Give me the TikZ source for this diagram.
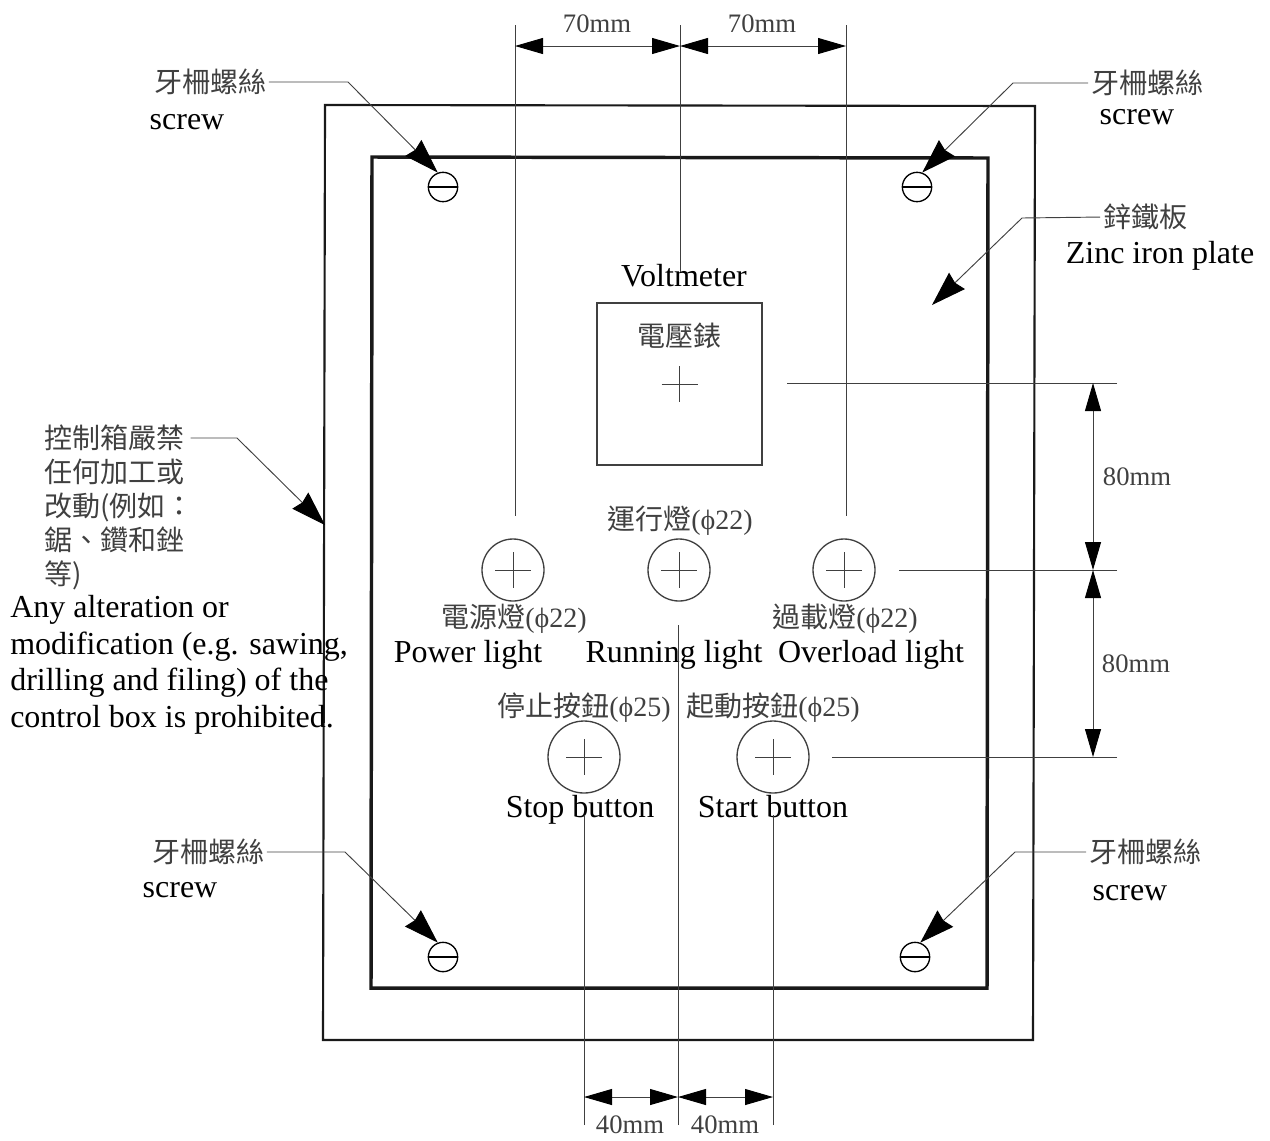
\documentclass[tikz,border=0pt]{standalone}
\usepackage{fontspec}
\setmainfont{Liberation Serif}
\newfontfamily\cjk{Noto Sans CJK TC}
\usetikzlibrary{arrows.meta,shapes}
\definecolor{scan}{HTML}{404040}
\tikzset{%
  thinline/.style={%
    draw=scan,%
    line width=0.7pt},
  dimline/.style={%
    thinline,%
    {Triangle[length=21pt,width=12pt,color=black]}-{Triangle[length=21pt,width=12pt,color=black]}},
  leader/.style={%
    thinline,%
    shorten <=2pt,%
    -{Stealth[length=26pt,width=17pt,inset=2pt,color=black]}},
  lamp/.style={%
    circle,%
    draw=scan,%
    line width=1pt,%
    inner sep=0pt,%
    minimum size=46.5pt},
  pushbutton/.style={%
    lamp,%
    minimum size=54pt},
  screwhead/.style={%
    circle,%
    draw=black,%
    line width=1pt,%
    inner sep=0pt,%
    minimum size=22pt},
  english/.style={%
    font=\fontsize{24}{27.5}\selectfont,%
    text height=20pt,%
    text depth=5pt,%
    inner sep=0pt},
  paragraph/.style={%
    font=\fontsize{24}{27.5}\selectfont,%
    anchor=north west,%
    align=left,%
    inner sep=0pt},
  chinese/.style={%
    font=\fontsize{21}{25.5}\selectfont\cjk,%
    text=scan,%
    inner sep=0pt},
  partname/.style={%
    font=\fontsize{21}{25}\selectfont,%
    text=scan,%
    inner sep=0pt},
  size/.style={%
    font=\fontsize{20}{24}\selectfont,%
    text=scan,%
    inner sep=0pt}
}
\begin{document}
\begin{tikzpicture}[x=0.75pt,y=-0.75pt]
  \useasboundingbox (0,0) rectangle (1270,1140);
  % box and plate
  \draw [line width=1.6pt,draw=black!90] (325,105) -- (1035,106) -- (1033,1040) -- (323,1040) -- cycle;
  \draw [line width=2.6pt,draw=black!90] (372,157) -- (988,158) -- (987,988) -- (371,988) -- cycle;
  \node [draw=scan,line width=1.2pt,minimum width=123.75pt,minimum height=121.5pt,inner sep=0pt] (volt) at (679.5,384) {};
  % lights and buttons
  \node [lamp] (power) at (513,570) {};
  \node [lamp] (running) at (679,570) {};
  \node [lamp] (overload) at (844,570) {};
  \node [pushbutton] (stop) at (584,757) {};
  \node [pushbutton] (start) at (773,757) {};
  \foreach \n in {power,running,overload,stop,start,volt}
    \draw [thinline] (\n.center) +(-18,0) -- +(18,0) (\n.center) +(0,-18) -- +(0,18);
  % screws
  \node [screwhead] (screwtl) at (443,187) {};
  \node [screwhead] (screwtr) at (917,187) {};
  \node [screwhead] (screwbl) at (443,957) {};
  \node [screwhead] (screwbr) at (915,957) {};
  \foreach \n in {screwtl,screwtr,screwbl,screwbr}
    \draw [line width=1pt] (\n.west) -- (\n.east);
  % texts
  \node [chinese] (cntl) at (210,82) {牙柵螺絲};
  \node [english] (entl) at (187,119) {screw};
  \node [chinese] (cntr) at (1147,83) {牙柵螺絲};
  \node [english] (entr) at (1137,114) {screw};
  \node [chinese] (cnbl) at (208,852) {牙柵螺絲};
  \node [english] (enbl) at (180,887) {screw};
  \node [chinese] (cnbr) at (1145,852) {牙柵螺絲};
  \node [english] (enbr) at (1130,890) {screw};
  \node [chinese] (cnzinc) at (1145,217) {鋅鐵板};
  \node [english] (enzinc) at (1160,253) {Zinc iron plate};
  \node [english] (envolt) at (684,276) {Voltmeter};
  \node [chinese] (cnvolt) at (679,336) {電壓錶};
  \node [partname] (cnrunning) at (680,521) {{\cjk 運行燈}(ϕ22)};
  \node [partname] (cnpower) at (514,619) {{\cjk 電源燈}(ϕ22)};
  \node [partname] (cnoverload) at (845,619) {{\cjk 過載燈}(ϕ22)};
  \node [english] (enpower) at (468,652) {Power light};
  \node [english] (enrunning) at (674,652) {Running light};
  \node [english] (enoverload) at (871,652) {Overload light};
  \node [partname] (cnstop) at (584,708) {{\cjk 停止按鈕}(ϕ25)};
  \node [partname] (cnstart) at (773,708) {{\cjk 起動按鈕}(ϕ25)};
  \node [english] (enstop) at (580,807) {Stop button};
  \node [english] (enstart) at (773,807) {Start button};
  \node [chinese,anchor=north west,align=left] (cnwarn) at (44,425) {控制箱嚴禁\\任何加工或\\改動(例如：\\鋸、鑽和銼\\等)};
  \node [paragraph] (enwarn) at (10,595) {Any alteration or\\modification (e.g. sawing,\\drilling and filing) of the\\control box is prohibited.};
  % leaders
  \coordinate (bendtl) at (348,82);
  \coordinate (bendtr) at (1013,83);
  \coordinate (bendbl) at (345,852);
  \coordinate (bendbr) at (1015,852);
  \coordinate (bendzinc) at (1022,218);
  \coordinate (tipzinc) at (932,305);
  \coordinate (bendwarn) at (237,438);
  \coordinate (startwarn) at (188,438);
  \coordinate (tipwarn) at (325,525);
  \draw [leader] (cntl.east) -- (bendtl) -- (screwtl.110);
  \draw [leader] (cntr.west) -- (bendtr) -- (screwtr.70);
  \draw [leader] (cnbl.east) -- (bendbl) -- (screwbl.110);
  \draw [leader] (cnbr.west) -- (bendbr) -- (screwbr.70);
  \draw [leader] (cnzinc.west) -- (bendzinc) -- (tipzinc);
  \draw [leader] (startwarn) -- (bendwarn) -- (tipwarn);
  % witness lines
  \coordinate (topl) at (515,25);
  \coordinate (topm) at (680,25);
  \coordinate (topr) at (846,25);
  \coordinate (botl) at (584,1125);
  \coordinate (botm) at (678,1125);
  \coordinate (botr) at (773,1125);
  \coordinate (rtop) at (1117,383);
  \coordinate (rmid) at (1117,570);
  \coordinate (rbot) at (1117,757);
  \coordinate (endtopl) at (515,516);
  \coordinate (endtopm) at (680,272);
  \coordinate (endtopr) at (846,516);
  \coordinate (endbotl) at (584,815);
  \coordinate (endbotm) at (678,625);
  \coordinate (endbotr) at (773,815);
  \coordinate (endrtop) at (787,383);
  \coordinate (endrmid) at (899,570);
  \coordinate (endrbot) at (832,757);
  \draw [thinline] (topl) -- (endtopl);
  \draw [thinline] (topm) -- (endtopm);
  \draw [thinline] (topr) -- (endtopr);
  \draw [thinline] (botl) -- (endbotl);
  \draw [thinline] (botm) -- (endbotm);
  \draw [thinline] (botr) -- (endbotr);
  \draw [thinline] (rtop) -- (endrtop);
  \draw [thinline] (rmid) -- (endrmid);
  \draw [thinline] (rbot) -- (endrbot);
  % dimensions
  \coordinate (dimtop) at (0,46);
  \coordinate (dimbot) at (0,1097);
  \coordinate (dimright) at (1093,0);
  \draw [dimline] (topl |- dimtop) -- (topm |- dimtop);
  \draw [dimline] (topm |- dimtop) -- (topr |- dimtop);
  \draw [dimline] (botl |- dimbot) -- (botm |- dimbot);
  \draw [dimline] (botm |- dimbot) -- (botr |- dimbot);
  \draw [dimline] (dimright |- rtop) -- (dimright |- rmid);
  \draw [dimline] (dimright |- rmid) -- (dimright |- rbot);
  \node [size] (sizea) at (597,24) {70mm};
  \node [size] (sizeb) at (762,24) {70mm};
  \node [size] (sizec) at (630,1125) {40mm};
  \node [size] (sized) at (725,1125) {40mm};
  \node [size] (sizee) at (1137,477) {80mm};
  \node [size] (sizef) at (1136,664) {80mm};
\end{tikzpicture}
\end{document}
